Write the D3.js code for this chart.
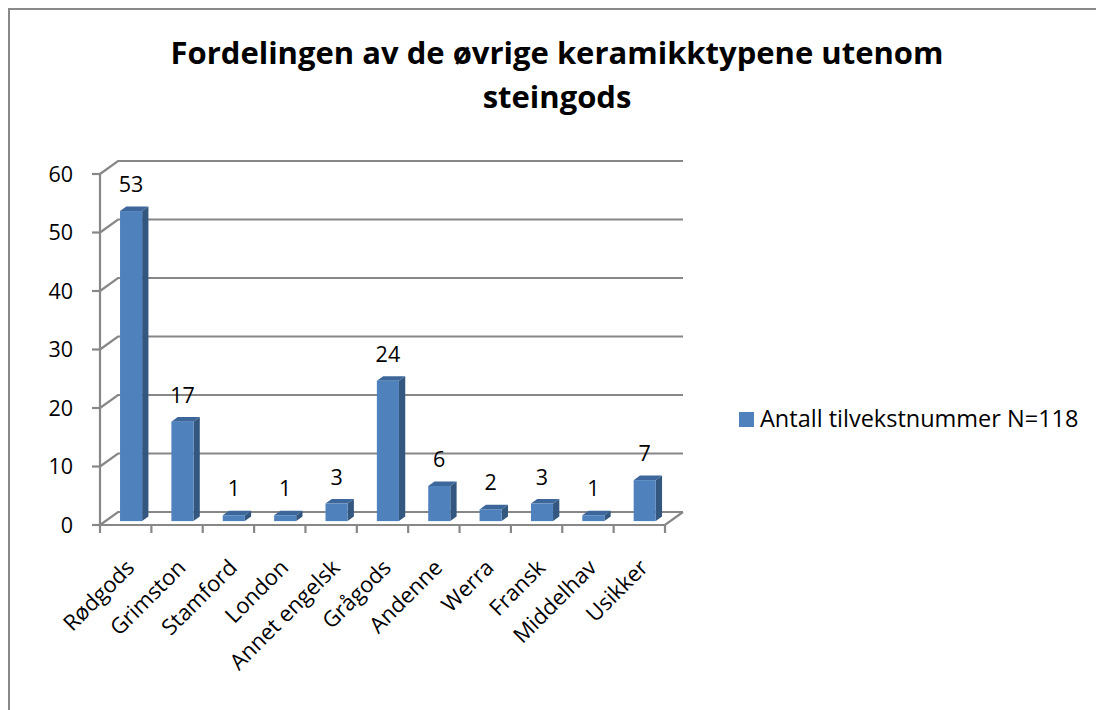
<!DOCTYPE html>
<html><head><meta charset="utf-8">
<script src="https://cdn.jsdelivr.net/npm/d3@7"></script>
<style>
html,body{margin:0;padding:0;background:#fff;}
svg{display:block;}
</style></head>
<body>
<svg id="c" width="1096" height="710"></svg>
<script>
const categories = ["Rødgods","Grimston","Stamford","London","Annet engelsk","Grågods","Andenne","Werra","Fransk","Middelhav","Usikker"];
const values = [53,17,1,1,3,24,6,2,3,1,7];
const yTicks = [0,10,20,30,40,50,60];
const seriesName = "Antall tilvekstnummer N=118";
const titleLines = ["Fordelingen av de øvrige keramikktypene utenom","steingods"];

const svg = d3.select("#c");
const FONT = "'Open Sans', 'Liberation Sans', sans-serif";

// outer border
svg.append("path").attr("d","M9,720 L9,9 L1110,9").attr("fill","none").attr("stroke","#898989").attr("stroke-width",2);

// geometry
const x0 = 100, x1 = 665, yBase = 525, yTop = 174;
const DX = 18, DY = -13;
const x = d3.scaleBand().domain(categories).range([x0,x1]);
const y = d3.scaleLinear().domain([0,60]).range([yBase,yTop]);

// title
const title = svg.append("text").attr("text-anchor","middle").attr("font-family",FONT)
  .attr("font-weight","bold").attr("font-size",31).attr("fill","#000");
title.selectAll("tspan").data(titleLines).join("tspan")
  .attr("x",557).attr("y",(d,i)=>64+i*44).text(d=>d);

// gridlines (side wall + back wall)
const grid = svg.append("g").attr("fill","none").attr("stroke","#878787").attr("stroke-width",2.2);
yTicks.forEach(t=>{
  const yf = y(t);
  grid.append("path").attr("d",`M${x0},${yf} L${x0+DX},${yf+DY} L${x1+DX},${yf+DY}`);
});
// floor front edge and right edge
grid.append("path").attr("d",`M${x0},${yBase} L${x1},${yBase} L${x1+DX},${yBase+DY}`);
// y axis line
grid.append("path").attr("d",`M${x0},${yBase} L${x0},${y(60)}`);
// y ticks
yTicks.forEach(t=>{
  grid.append("path").attr("d",`M${x0-8},${y(t)} L${x0},${y(t)}`);
});
// x ticks
x.domain().concat([null]).forEach((c,i)=>{
  const xx = x0 + i*x.step();
  grid.append("path").attr("d",`M${xx},${yBase} L${xx},${yBase+8}`);
});

// y tick labels
svg.append("g").selectAll("text").data(yTicks).join("text")
  .attr("x",73).attr("y",d=>y(d)).attr("dy","0.36em").attr("text-anchor","end")
  .attr("font-family",FONT).attr("font-size",21.5).attr("fill","#000").text(d=>d);

// bars
const f1 = 0.3, f2 = 0.65;
const bw = x.step()*0.43;
const bars = svg.append("g");
categories.forEach((c,i)=>{
  const v = values[i];
  const cx = x(c) + x.bandwidth()/2;
  const fx = cx - bw/2 + DX*f1, fy = DY*f1;
  const ddx = DX*(f2-f1), ddy = DY*(f2-f1);
  const yb = y(0)+fy, yt = y(v)+fy;
  bars.append("path").attr("d",`M${fx+bw},${yb} L${fx+bw+ddx},${yb+ddy} L${fx+bw+ddx},${yt+ddy} L${fx+bw},${yt} Z`)
    .attr("fill","#34577f");
  bars.append("path").attr("d",`M${fx},${yt} L${fx+ddx},${yt+ddy} L${fx+bw+ddx},${yt+ddy} L${fx+bw},${yt} Z`)
    .attr("fill","#3d679a");
  bars.append("rect").attr("x",fx).attr("y",yt).attr("width",bw).attr("height",yb-yt)
    .attr("fill","#4f81bd");
  bars.append("text").attr("x",fx+bw/2).attr("y",yt-19).attr("text-anchor","middle")
    .attr("font-family",FONT).attr("font-size",21.5).attr("fill","#000").text(v);
});

// category labels
svg.append("g").selectAll("text").data(categories).join("text")
  .attr("transform",d=>`translate(${x(d)+x.bandwidth()/2+10},${569}) rotate(-45)`)
  .attr("text-anchor","end").attr("font-family",FONT).attr("font-size",22).attr("fill","#000")
  .text(d=>d);

// legend
const lg = svg.append("g");
lg.append("rect").attr("x",739).attr("y",412).attr("width",15).attr("height",15).attr("fill","#4f81bd");
lg.append("text").attr("x",760).attr("y",427).attr("font-family",FONT).attr("font-size",23.5).attr("fill","#000").text(seriesName);
</script>
</body></html>
